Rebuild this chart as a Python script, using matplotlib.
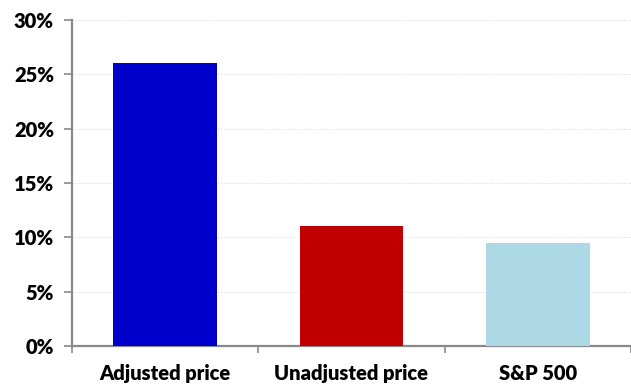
import numpy as np
import matplotlib.pyplot as plt
from matplotlib.ticker import FuncFormatter

categories = ['Adjusted price', 'Unadjusted price', 'S&P 500']
returns = [26.0, 11.05, 9.5]
colors = ['#0000CC', '#C00000', '#ADD8E6']

plt.rcParams['font.family'] = ['Lato', 'DejaVu Sans']

fig = plt.figure(figsize=(6.31, 3.84), dpi=100)
ax = fig.add_axes([72/631, 1-346/384, 1-72/631, (346-20)/384])

x = np.arange(len(categories))
ax.bar(x, returns, width=0.556, color=colors, zorder=3)

ax.set_xlim(-0.5, 2.5)
ax.set_ylim(0, 30)
ax.set_yticks(np.arange(0, 31, 5))
ax.yaxis.set_major_formatter(FuncFormatter(lambda v, p: '%d%%' % v))
ax.grid(axis='y', color='#e0e0e0', linestyle=(0, (1.5, 1.5)), linewidth=0.7, zorder=0)

# category boundaries carry the ticks, labels sit in between
ax.set_xticks([-0.5, 0.5, 1.5, 2.5])
ax.set_xticklabels([])
ax.set_xticks(x, minor=True)
ax.set_xticklabels(categories, minor=True)
ax.tick_params(axis='x', which='minor', length=0, pad=13, labelsize=14.5)
ax.tick_params(axis='x', which='major', length=5, color='#898989', width=1.2)
ax.tick_params(axis='y', length=6, color='#898989', width=1.2, labelsize=14.5, pad=7)
for lab in ax.get_xticklabels(minor=True) + ax.get_yticklabels():
    lab.set_fontweight('heavy')

for side in ['top', 'right']:
    ax.spines[side].set_visible(False)
for side in ['left', 'bottom']:
    ax.spines[side].set_color('#898989')
    ax.spines[side].set_linewidth(1.6)

fig.savefig('out.png', dpi=100)
